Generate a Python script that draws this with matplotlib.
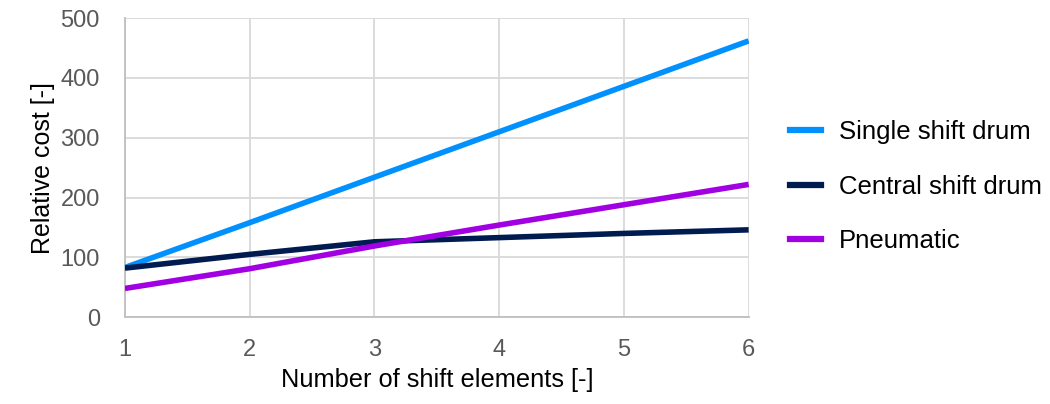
import matplotlib.pyplot as plt
from matplotlib.lines import Line2D

plt.rcParams['font.family'] = ['Liberation Sans', 'DejaVu Sans']

# data
elements = [1, 2, 3, 4, 5, 6]
single_drum = [83, 158, 234, 310, 386, 462]
central_drum = [82, 105, 126, 133, 140, 146]
pneumatic = [48, 81, 119, 154, 188, 222]

labels = ['Single shift drum', 'Central shift drum', 'Pneumatic']
colors = ['#0091FF', '#001B50', '#A100E2']

fig = plt.figure(figsize=(10.5, 4.04), dpi=100)
ax = fig.add_axes([0.119, 0.215, 0.594, 0.74])

for vals, lab, col in zip([single_drum, central_drum, pneumatic], labels, colors):
    ax.plot(elements, vals, color=col, lw=4.0, label=lab, solid_capstyle='butt', zorder=3)

ax.set_xlim(1, 6)
ax.set_ylim(0, 500)
ax.set_xticks(elements)
ax.set_yticks(range(0, 501, 100))
ax.grid(True, color='#d9d9d9', lw=1.3)
for s in ['top', 'right']:
    ax.spines[s].set_visible(False)
for s in ['left', 'bottom']:
    ax.spines[s].set_color('#bfbfbf')
    ax.spines[s].set_linewidth(1.3)
ax.tick_params(length=0, labelsize=17, colors='#595959')
ax.tick_params(axis='x', pad=16)
ax.tick_params(axis='y', pad=18)
ax.set_xlabel('Number of shift elements [-]', fontsize=18.3, labelpad=5)
ax.set_ylabel('Relative cost [-]', fontsize=18, labelpad=4)

handles = [Line2D([], [], color=c, lw=4.5) for c in colors]
fig.legend(handles, labels, loc='center left', bbox_to_anchor=(0.743, 0.538),
           borderaxespad=0, frameon=False, fontsize=18.5, handlelength=1.2,
           labelspacing=1.2, handletextpad=0.68)

fig.savefig('out.png', dpi=100)
